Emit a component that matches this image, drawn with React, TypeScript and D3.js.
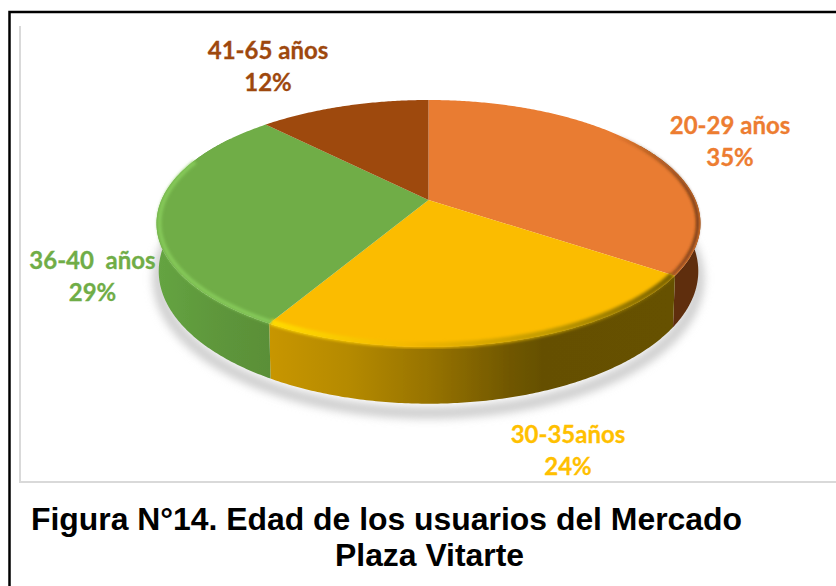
import React from "react";
import * as d3 from "d3";

const categories = ["20-29 años", "30-35años", "36-40  años", "41-65 años"];
const percentLabels = ["35%", "24%", "29%", "12%"];
const sliceShares = [34.6, 23.7, 29.5, 12.2];
const faceColors = ["#e97b30", "#fbbc00", "#70ad47", "#9e480e"];
const labelColors = ["#ed7d31", "#ffc000", "#70ad47", "#9e480e"];
const labelCenters = [[730, 134], [568, 443], [92.5, 269], [268, 59]];
const caption = ["Figura N°14. Edad de los usuarios del Mercado", "Plaza Vitarte"];

const CX = 428.5, CY = 200, A = 267, B = 119, K = 0.19, DEPTH = 46;

const project = (t: number, r = 1, drop = 0): [number, number] => {
  const X = Math.sin(t) * r, Y = Math.cos(t) * r;
  const w = 1 + K * Y;
  const sx = drop ? 0.992 : 1;
  return [CX + (A * X * sx) / w, CY - (B * Y) / w + (drop * DEPTH) / w];
};

const line = d3.line<[number, number]>();
const sample = (a: number, b: number, r = 1, drop = 0) => {
  const n = Math.max(2, Math.ceil(Math.abs(b - a) / 0.01));
  return d3.range(n + 1).map((i) => project(a + ((b - a) * i) / n, r, drop));
};

const rad = (deg: number) => (deg * Math.PI) / 180;
const arcs = d3.pie<number>().sort(null).startAngle(0).endAngle(2 * Math.PI)(sliceShares);

const facePath = (a: number, b: number) => line([[CX, CY], ...sample(a, b)])! + "Z";
const wallPath = (a: number, b: number) =>
  line([...sample(a, b), ...sample(b, a, 1, 1)])! + "Z";

const wallFront = [rad(60), arcs[0].endAngle, arcs[1].endAngle, rad(305)];
const wallFills = ["#5f2f10", "url(#wallYellow)", "url(#wallGreen)"];
const rimStrokes = ["url(#rimOrange)", "url(#rimYellow)", "#86ca5a"];
const rimWidths = [3, 6, 4];
const rimRanges = [[rad(42), arcs[0].endAngle], [arcs[0].endAngle, arcs[1].endAngle], [arcs[1].endAngle, rad(290)]];

export default function App() {
  return (
    <svg width={836} height={586} style={{ position: "absolute", left: 0, top: 0, background: "#fff" }}>
      <defs>
        <filter id="shadow" x="-10%" y="-20%" width="120%" height="140%"><feGaussianBlur stdDeviation="4" /></filter>
        <filter id="soft" x="-5%" y="-5%" width="110%" height="110%"><feGaussianBlur stdDeviation="0.6" /></filter>
        <filter id="rim" x="-5%" y="-5%" width="110%" height="110%"><feGaussianBlur stdDeviation="1.6" /></filter>
        <linearGradient id="wallYellow" gradientUnits="userSpaceOnUse" x1="268" x2="672" y1="0" y2="0">
          <stop offset="0" stopColor="#c89600" />
          <stop offset="0.2" stopColor="#b58a00" />
          <stop offset="0.4" stopColor="#977300" />
          <stop offset="0.6" stopColor="#705700" />
          <stop offset="0.68" stopColor="#655000" />
          <stop offset="1" stopColor="#665100" />
        </linearGradient>
        <linearGradient id="wallGreen" gradientUnits="userSpaceOnUse" x1="158" x2="270" y1="0" y2="0">
          <stop offset="0" stopColor="#65a442" />
          <stop offset="0.5" stopColor="#5e973b" />
          <stop offset="1" stopColor="#5a8f38" />
        </linearGradient>
        <linearGradient id="rimYellow" gradientUnits="userSpaceOnUse" x1="268" x2="672" y1="0" y2="0">
          <stop offset="0" stopColor="#ffdc00" />
          <stop offset="0.35" stopColor="#f4b800" />
          <stop offset="0.7" stopColor="#c09a00" />
          <stop offset="1" stopColor="#7a6200" />
        </linearGradient>
        <linearGradient id="rimOrange" gradientUnits="userSpaceOnUse" x1="610" x2="695" y1="0" y2="0">
          <stop offset="0" stopColor="#5a2c0e" stopOpacity="0" />
          <stop offset="1" stopColor="#5a2c0e" stopOpacity="0.9" />
        </linearGradient>
      </defs>

      <rect x={9.5} y={12} width={830} height={590} fill="none" stroke="#000" strokeWidth={2.5} />
      <path d="M20 26V482H836" fill="none" stroke="#d9d9d9" strokeWidth={2} />

      <path d={line(sample(rad(70), rad(292), 1, 1.16))!} fill="none" stroke="#cfcfcf" strokeWidth={12} filter="url(#shadow)" />

      <g filter="url(#soft)">
        {[0, 1, 2].map((i) => (
          <path key={i} d={wallPath(wallFront[i], wallFront[i + 1])} fill={wallFills[i]} />
        ))}
        {arcs.map((d, i) => (
          <path key={i} d={facePath(d.startAngle, d.endAngle)} fill={faceColors[i]} />
        ))}
      </g>
      {rimRanges.map(([a, b], i) => (
        <path key={i} d={line(sample(a, b, 0.99))!} fill="none" stroke={rimStrokes[i]} strokeWidth={rimWidths[i]} filter="url(#rim)" />
      ))}

      <g fontFamily="Lato, 'Open Sans', sans-serif" fontWeight={700} fontSize={24} textAnchor="middle">
        {categories.map((c, i) => (
          <g key={c} fill={labelColors[i]} stroke={labelColors[i]} strokeWidth={0.3}>
            <text x={labelCenters[i][0]} y={labelCenters[i][1]} xmlSpace="preserve">{c}</text>
            <text x={labelCenters[i][0]} y={labelCenters[i][1] + 32}>{percentLabels[i]}</text>
          </g>
        ))}
      </g>

      <g fontFamily="'Liberation Sans', Arial, sans-serif" fontWeight={700} fontSize={31.9} fill="#000">
        <text x={31} y={530}>{caption[0]}</text>
        <text x={335} y={566}>{caption[1]}</text>
      </g>
    </svg>
  );
}
